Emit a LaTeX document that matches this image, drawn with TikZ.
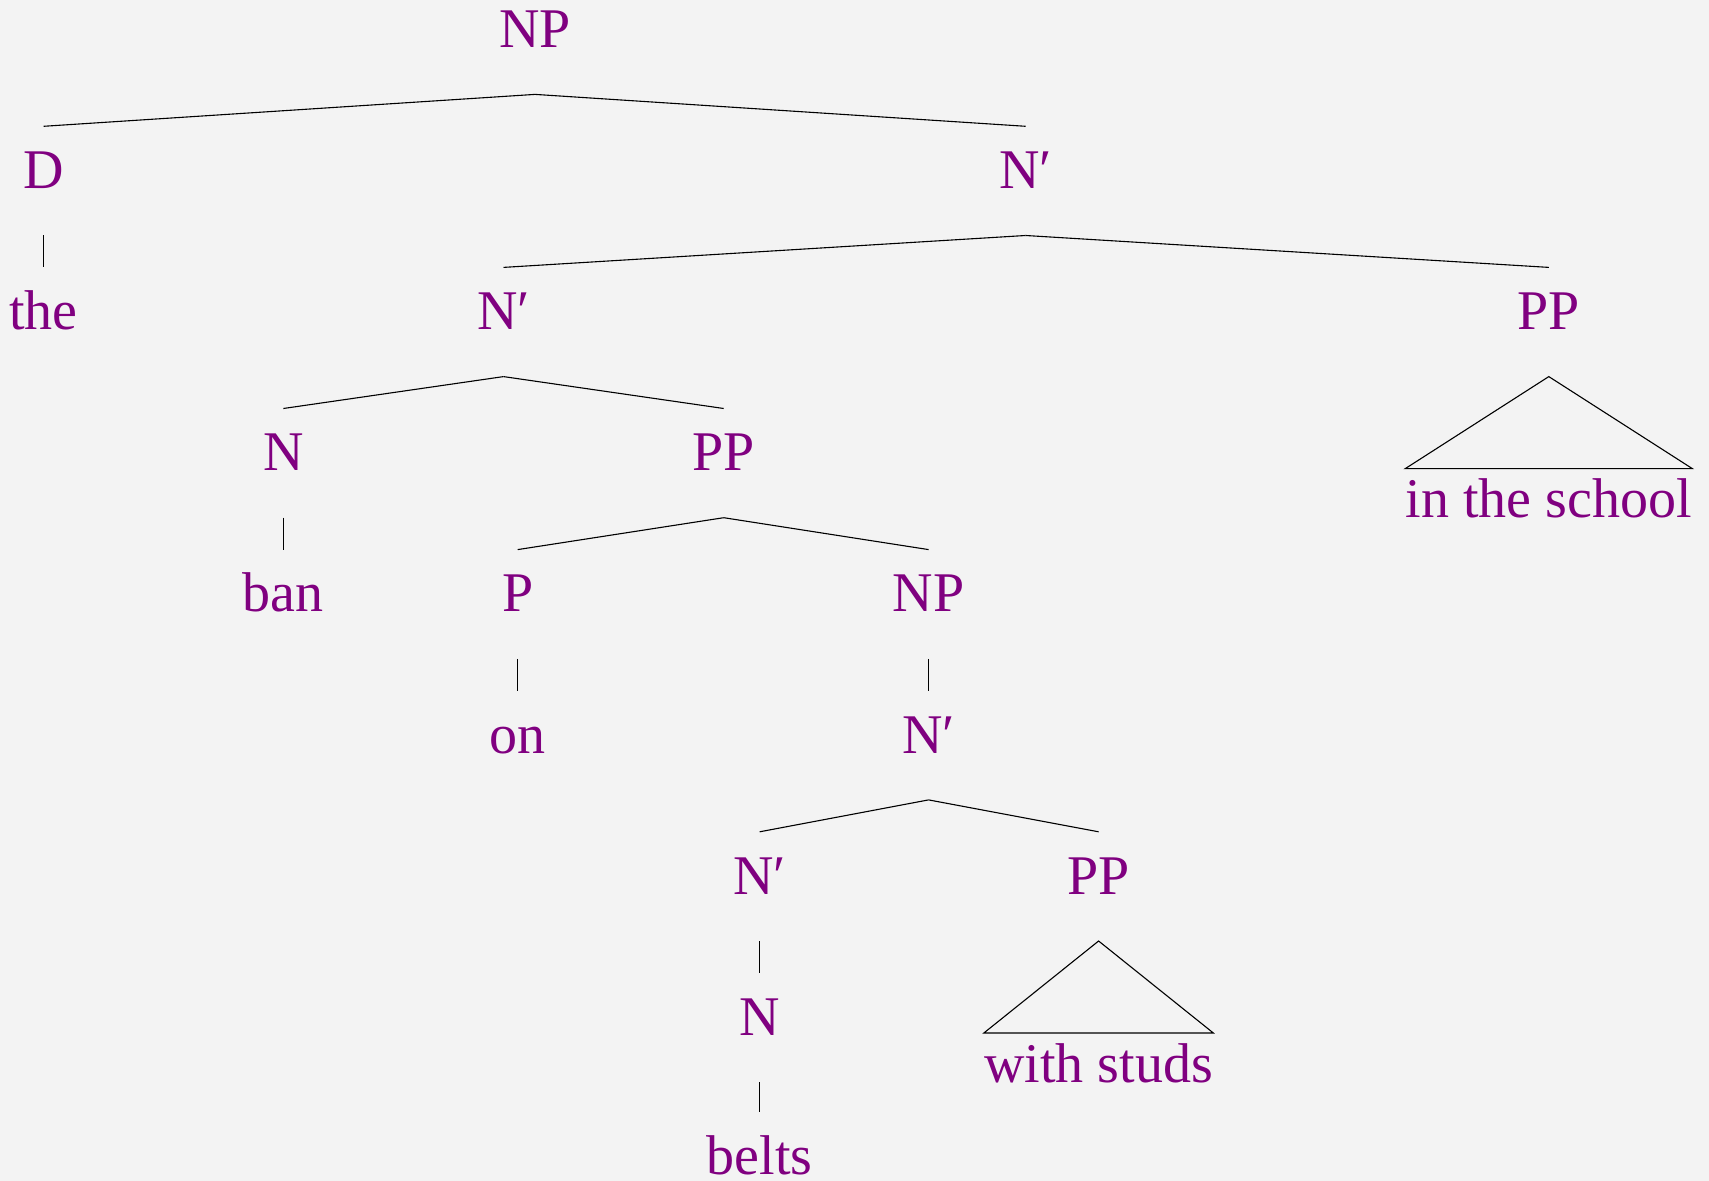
\documentclass[tikz,border=0pt]{standalone}
\usepackage{fontspec}
\setmainfont{Liberation Serif}
\definecolor{lblpurple}{HTML}{800080}
\definecolor{bggray}{HTML}{F3F3F3}
\begin{document}
\begin{tikzpicture}[
    x=1pt, y=1pt,
    lbl/.style={text=lblpurple, font=\fontsize{28}{34}\selectfont, anchor=base,
        text height=21pt, text depth=13.2pt, inner xsep=0pt, inner ysep=10pt},
    roofleaf/.style={lbl, inner ysep=3.5pt},
    branch/.style={line width=0.55pt, black}
]
    \fill[bggray] (0,0) rectangle (854.5,-590.5);
    \useasboundingbox (0,0) rectangle (854.5,-590.5);

    \node[lbl] (np) at (267.5,-23.8) {NP};
    \node[lbl] (d) at (21.8,-94.35) {D};
    \node[lbl] (nbar) at (512.8,-94.35) {N′};
    \node[lbl] (the) at (21.8,-164.9) {the};
    \node[lbl] (nbarb) at (251.75,-164.9) {N′};
    \node[lbl] (ppa) at (774.4,-164.9) {PP};
    \node[lbl] (n) at (141.7,-235.45) {N};
    \node[lbl] (ppb) at (361.85,-235.45) {PP};
    \node[roofleaf] (school) at (774.4,-259) {in the school};
    \node[lbl] (ban) at (141.7,-306.0) {ban};
    \node[lbl] (p) at (258.85,-306.0) {P};
    \node[lbl] (npb) at (464.3,-306.0) {NP};
    \node[lbl] (on) at (258.85,-376.55) {on};
    \node[lbl] (nbarc) at (464.3,-376.55) {N′};
    \node[lbl] (nbard) at (379.85,-447.1) {N′};
    \node[lbl] (ppc) at (549.3,-447.1) {PP};
    \node[lbl] (nb) at (379.85,-517.65) {N};
    \node[roofleaf] (studs) at (549.3,-541.2) {with studs};
    \node[lbl] (belts) at (379.85,-587.2) {belts};

    \draw[branch] (np.south) -- (d.north);
    \draw[branch] (np.south) -- (nbar.north);
    \draw[branch] (d.south) -- (the.north);
    \draw[branch] (nbar.south) -- (nbarb.north);
    \draw[branch] (nbar.south) -- (ppa.north);
    \draw[branch] (nbarb.south) -- (n.north);
    \draw[branch] (nbarb.south) -- (ppb.north);
    \draw[branch] (ppa.south) -- (school.north west) -- (school.north east) -- cycle;
    \draw[branch] (n.south) -- (ban.north);
    \draw[branch] (ppb.south) -- (p.north);
    \draw[branch] (ppb.south) -- (npb.north);
    \draw[branch] (p.south) -- (on.north);
    \draw[branch] (npb.south) -- (nbarc.north);
    \draw[branch] (nbarc.south) -- (nbard.north);
    \draw[branch] (nbarc.south) -- (ppc.north);
    \draw[branch] (nbard.south) -- (nb.north);
    \draw[branch] (ppc.south) -- (studs.north west) -- (studs.north east) -- cycle;
    \draw[branch] (nb.south) -- (belts.north);
\end{tikzpicture}
\end{document}
